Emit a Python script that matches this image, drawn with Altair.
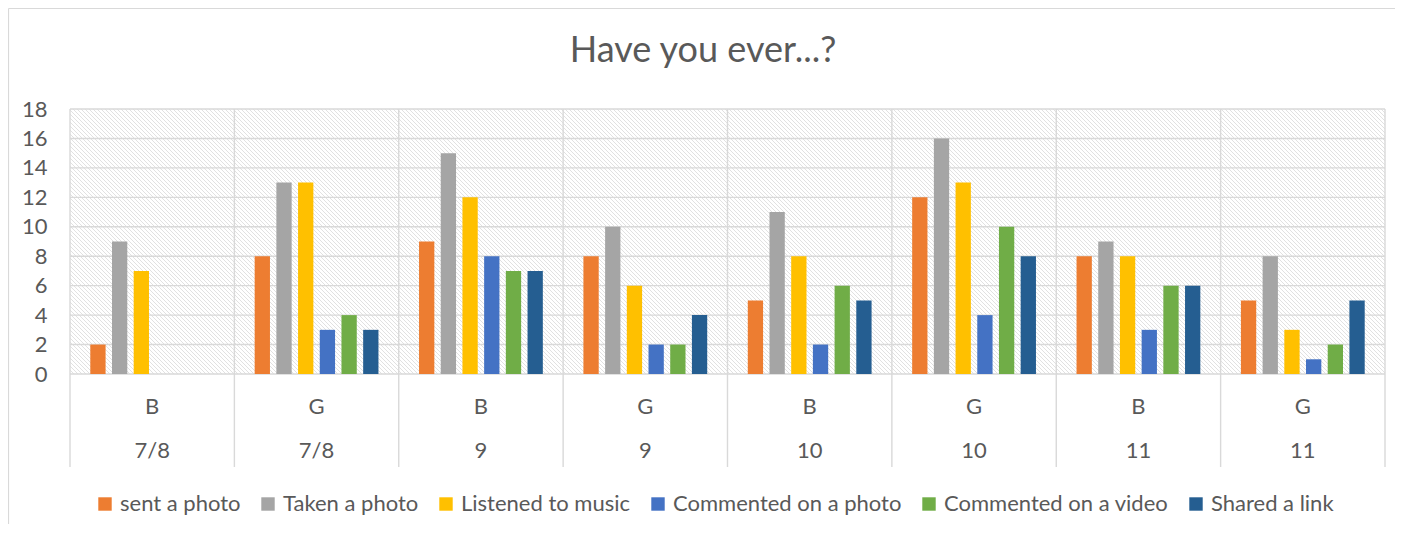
import altair as alt
import pandas as pd

# ---- data ----
sexes = ["B", "G", "B", "G", "B", "G", "B", "G"]
years = ["7/8", "7/8", "9", "9", "10", "10", "11", "11"]
series = ["sent a photo", "Taken a photo", "Listened to music",
          "Commented on a photo", "Commented on a video", "Shared a link"]
sent_photo = [2, 8, 9, 8, 5, 12, 8, 5]
taken_photo = [9, 13, 15, 10, 11, 16, 9, 8]
listened_music = [7, 13, 12, 6, 8, 13, 8, 3]
commented_photo = [None, 3, 8, 2, 2, 4, 3, 1]
commented_video = [None, 4, 7, 2, 6, 10, 6, 2]
shared_link = [None, 3, 7, 4, 5, 8, 6, 5]
y_ticks = [0, 2, 4, 6, 8, 10, 12, 14, 16, 18]
title_text = "Have you ever...?"

colors = ["#ED7D31", "#A5A5A5", "#FFC000", "#4472C4", "#70AD47", "#255E91"]

groups = [f"{s} {y} #{i}" for i, (s, y) in enumerate(zip(sexes, years))]
all_vals = [sent_photo, taken_photo, listened_music,
            commented_photo, commented_video, shared_link]

rows = []
for s_name, vals in zip(series, all_vals):
    for g, v in zip(groups, vals):
        if v is not None:
            rows.append({"grp": g, "series": s_name, "value": v})
bars_df = pd.DataFrame(rows)
cats_df = pd.DataFrame({"grp": groups, "sex": sexes, "year": years})
grid_df = pd.DataFrame({"value": y_ticks})

W, H = 1315, 265
FONT = "Lato"
TXT = "#595959"
GRID = "#d9d9d9"

xscale = alt.Scale(domain=groups, paddingInner=0, paddingOuter=0)
yscale = alt.Scale(domain=[0, 18], nice=False)
yaxis = alt.Axis(values=y_ticks, grid=False, domain=False, ticks=False,
                 labelFontSize=22, labelColor=TXT, labelFont=FONT,
                 labelPadding=23, title=None)

one = alt.Data(values=[{"a": 1}])

# ---- decorative hatch (light downward diagonal) in the plot area ----
hatch = alt.Chart(alt.sequence(-H, W, 4, as_="k")).transform_calculate(
    xa="datum.k", xb=f"datum.k + {H}", ytop=f"{H}", ybot="0"
).mark_rule(color="#e1e1e1", strokeWidth=1, clip=True).encode(
    x=alt.X("xa:Q", scale=alt.Scale(domain=[0, W], nice=False, zero=False), axis=None),
    x2="xb:Q",
    y=alt.Y("ytop:Q", scale=alt.Scale(domain=[0, H], nice=False, zero=False), axis=None),
    y2="ybot:Q",
)

border_top = alt.Chart(one).mark_rule(color="#d9d9d9", strokeWidth=1.2).encode(
    x=alt.value(-61.5), x2=alt.value(W + 100), y=alt.value(-100.5)
)
border_left = alt.Chart(one).mark_rule(color="#d9d9d9", strokeWidth=1.2).encode(
    x=alt.value(-61.5), y=alt.value(-100.5), y2=alt.value(H + 300)
)

hgrid = alt.Chart(grid_df).mark_rule(color=GRID, strokeWidth=1.4).encode(
    y=alt.Y("value:Q", scale=yscale, axis=yaxis), x=alt.value(0), x2=alt.value(W)
)

vsep = alt.Chart(cats_df).mark_rule(color=GRID, strokeWidth=1.4).encode(
    x=alt.X("grp:N", scale=xscale, axis=None, bandPosition=0),
    y=alt.value(0), y2=alt.value(358)
)
vsep_right = alt.Chart(one).mark_rule(color=GRID, strokeWidth=1.4).encode(
    x=alt.value(W), y=alt.value(0), y2=alt.value(358)
)

bars = alt.Chart(bars_df).mark_bar().encode(
    x=alt.X("grp:N", scale=xscale, axis=None),
    xOffset=alt.XOffset("series:N",
                        scale=alt.Scale(domain=series, paddingInner=0.295, paddingOuter=0.935)),
    y=alt.Y("value:Q", scale=yscale, axis=yaxis),
    color=alt.Color("series:N",
                    scale=alt.Scale(domain=series, range=colors),
                    legend=alt.Legend(orient="none", legendX=24, legendY=384,
                                      direction="horizontal", title=None,
                                      symbolType="square", symbolSize=180,
                                      symbolStrokeWidth=0, symbolOpacity=1,
                                      labelFontSize=22, labelFont=FONT, labelColor=TXT,
                                      labelLimit=0, labelOffset=4, columnPadding=16,
                                      padding=0)),
)

sex_text = alt.Chart(cats_df).mark_text(
    fontSize=22, font=FONT, color=TXT, baseline="middle"
).encode(x=alt.X("grp:N", scale=xscale, axis=None), y=alt.value(298), text="sex:N")

year_text = alt.Chart(cats_df).mark_text(
    fontSize=22, font=FONT, color=TXT, baseline="middle"
).encode(x=alt.X("grp:N", scale=xscale, axis=None), y=alt.value(342), text="year:N")

title = alt.Chart(alt.Data(values=[{"t": title_text}])).mark_text(
    fontSize=36, font=FONT, color=TXT, baseline="middle", align="center"
).encode(x=alt.value(633), y=alt.value(-58), text="t:N")

main = alt.layer(border_top, border_left, hgrid, vsep, vsep_right, bars,
                 sex_text, year_text, title)

chart = alt.layer(hatch, main).resolve_scale(
    x="independent", y="independent"
).properties(
    width=W, height=H,
    autosize=alt.AutoSizeParams(type="none"),
    padding={"left": 62, "top": 101, "right": 10, "bottom": 150},
).configure_view(stroke=None)

chart.save("out.html", embed_options={"renderer": "svg", "actions": False})
